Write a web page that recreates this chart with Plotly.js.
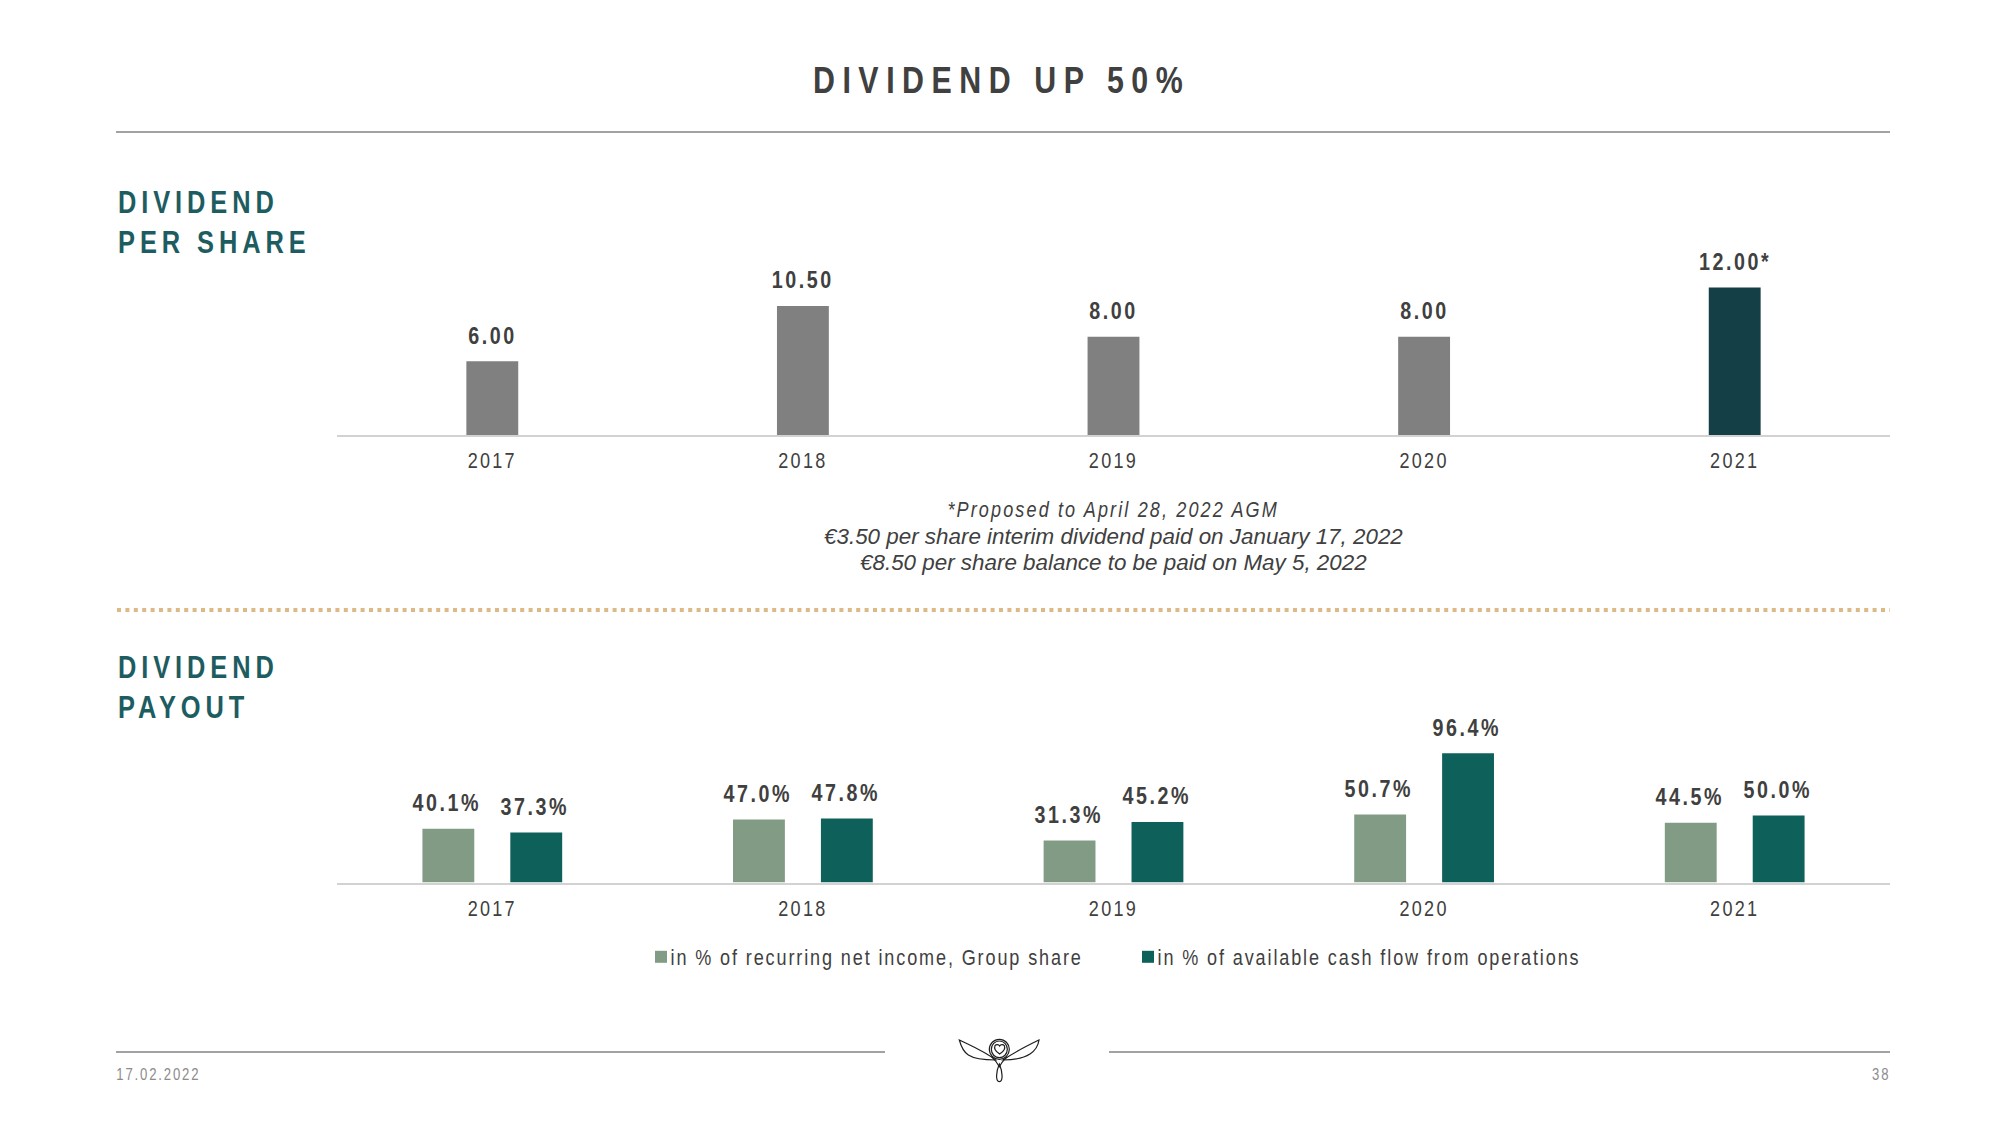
<!DOCTYPE html>
<html>
<head>
<meta charset="utf-8">
<script src="https://cdn.plot.ly/plotly-3.0.1.min.js"></script>
<style>
html,body{margin:0;padding:0;background:#fff}
.xtick text,.x2tick text{letter-spacing:2.8px}
.legendtext{letter-spacing:2.3px}
</style>
</head>
<body>
<div id="chart" style="width:2000px;height:1125px"></div>
<script>
const years = ['2017','2018','2019','2020','2021'];
const dividendPerShare = [6.00,10.50,8.00,8.00,12.00];
const dividendLabels = ['6.00','10.50','8.00','8.00','12.00*'];
const dividendColors = ['#808080','#808080','#808080','#808080','#153f46'];
const payoutNetIncome = [40.1,47.0,31.3,50.7,44.5];
const payoutCashFlow = [37.3,47.8,45.2,96.4,50.0];
const netIncomeName = 'in % of recurring net income, Group share';
const cashFlowName = 'in % of available cash flow from operations';
const titleText = 'DIVIDEND UP 50%';
const headingPerShare = ['DIVIDEND','PER SHARE'];
const headingPayout = ['DIVIDEND','PAYOUT'];
const footnotes = ['*Proposed to April 28, 2022 AGM','€3.50 per share interim dividend paid on January 17, 2022','€8.50 per share balance to be paid on May 5, 2022'];
const footerDate = '17.02.2022';
const footerPage = '38';

const W=2000,H=1125;
const SANS='"Liberation Sans",Arial,sans-serif';
const px=x=>x/W, py=y=>1-y/H;
const sp=(t,s)=>`<span style="letter-spacing:${s}px">${t}</span>`;

const traces=[
 {type:'bar',x:years,y:dividendPerShare,xaxis:'x',yaxis:'y',width:0.167,marker:{color:dividendColors},showlegend:false,hoverinfo:'x+y'},
 {type:'bar',name:netIncomeName,x:years,y:payoutNetIncome,xaxis:'x2',yaxis:'y2',marker:{color:'#829b85'}},
 {type:'bar',name:cashFlowName,x:years,y:payoutCashFlow,xaxis:'x2',yaxis:'y2',marker:{color:'#0e605b'}}
];

const ann=[];
const txt=(x,y,text,size,color,opts)=>ann.push(Object.assign({xref:'paper',yref:'paper',x:px(x),y:py(y),text,showarrow:false,xanchor:'center',yanchor:'middle',font:{family:SANS,size,color}},opts||{}));
const dataLabel=(xr,yr,x,y,text,shift)=>ann.push({xref:xr,yref:yr,x,y,text:sp(`<b>${text}</b>`,3.1),showarrow:false,xanchor:'center',yanchor:'middle',xshift:shift,yshift:26,font:{family:SANS,size:24,color:'#404040'}});

years.forEach((yr,i)=>{
 dataLabel('x','y',i,dividendPerShare[i],dividendLabels[i],0);
 dataLabel('x2','y2',i,payoutNetIncome[i],payoutNetIncome[i].toFixed(1)+'%',-45);
 dataLabel('x2','y2',i,payoutCashFlow[i],payoutCashFlow[i].toFixed(1)+'%',43);
});
const head=(y,t)=>txt(116,y,sp(`<b>${t}</b>`,6),31,'#1d5c60',{xanchor:'left',align:'left'});
head(203,headingPerShare[0]);head(243,headingPerShare[1]);
head(667,headingPayout[0]);head(707,headingPayout[1]);
txt(1113,509,sp(`<i>${footnotes[0]}</i>`,2.6),22,'#404040');
txt(1113,536,`<i>${footnotes[1]}</i>`,22.4,'#404040');
txt(1113,562,`<i>${footnotes[2]}</i>`,22.4,'#404040');
txt(105,1074,sp(footerDate,2.25),16,'#8c8c8c',{xanchor:'left'});
txt(1894,1074,sp(footerPage,2.25),16,'#8c8c8c',{xanchor:'right'});

const rule=(x0,y0,x1,y1,color,width,dash)=>({type:'line',xref:'paper',yref:'paper',x0:px(x0),x1:px(x1),y0:py(y0),y1:py(y1),line:{color,width,dash:dash||'solid'}});
const Z=(zx,zy)=>`${px(900+zx/3)},${py(1020+zy/3)}`;
const logoPath=(d)=>({type:'path',xref:'paper',yref:'paper',path:d,line:{color:'#1e1e1e',width:1.2},fillcolor:'rgba(0,0,0,0)'});
const circ=(cx,cy,rx,ry)=>`M${Z(cx-rx,cy)} C${Z(cx-rx,cy-ry*0.55)} ${Z(cx-rx*0.55,cy-ry)} ${Z(cx,cy-ry)} C${Z(cx+rx*0.55,cy-ry)} ${Z(cx+rx,cy-ry*0.55)} ${Z(cx+rx,cy)} C${Z(cx+rx,cy+ry*0.55)} ${Z(cx+rx*0.55,cy+ry)} ${Z(cx,cy+ry)} C${Z(cx-rx*0.55,cy+ry)} ${Z(cx-rx,cy+ry*0.55)} ${Z(cx-rx,cy)} Z`;
const shapes=[
 rule(116,132,1890,132,'#a2a2a2',2),
 rule(117,610,1890,610,'#dcb987',4,'4px,4.4px'),
 rule(116,1052,885,1052,'#a2a2a2',2),
 rule(1109,1052,1890,1052,'#a2a2a2',2),
 logoPath(`M${Z(178,60)} C${Z(215,78)} ${Z(255,95)} ${Z(287,120)} C${Z(260,120)} ${Z(225,118)} ${Z(205,105)} C${Z(190,95)} ${Z(182,75)} ${Z(178,60)} Z`),
 logoPath(`M${Z(417,60)} C${Z(380,78)} ${Z(345,95)} ${Z(309,120)} C${Z(335,120)} ${Z(370,115)} ${Z(390,102)} C${Z(408,90)} ${Z(415,75)} ${Z(417,60)} Z`),
 logoPath(circ(298,88,30,30)),
 logoPath(circ(298,88,24,25)),
 logoPath(`M${Z(299,102)} C${Z(290,96)} ${Z(280,88)} ${Z(285,77)} C${Z(289,72)} ${Z(296,73)} ${Z(299,78)} C${Z(302,73)} ${Z(309,72)} ${Z(313,77)} C${Z(318,88)} ${Z(308,96)} ${Z(299,102)} Z`),
 logoPath(`M${Z(298,132)} C${Z(288,155)} ${Z(286,185)} ${Z(298,185)} C${Z(310,185)} ${Z(308,155)} ${Z(298,132)} Z`),
 logoPath(`M${Z(275,110)} C${Z(285,120)} ${Z(290,125)} ${Z(298,140)} C${Z(306,125)} ${Z(312,120)} ${Z(321,110)}`)
];

const xAx=(a)=>({type:'category',categoryorder:'array',categoryarray:years,range:[-0.5,4.5],domain:[337/W,1890/W],anchor:a,showgrid:false,zeroline:false,showline:true,linecolor:'#d2d2d2',linewidth:2,ticks:'outside',ticklen:5,tickcolor:'rgba(0,0,0,0)',tickfont:{family:SANS,size:22,color:'#404040'},fixedrange:true});
const yAx=(base,pxTop,max,xa)=>({domain:[1-base/H,1-pxTop/H],range:[0,max],visible:false,anchor:xa,fixedrange:true});

const layout={
 width:W,height:H,margin:{l:0,r:0,t:0,b:0},paper_bgcolor:'#fff',plot_bgcolor:'#fff',
 title:{text:sp(`<b>${titleText}</b>`,9.2),x:0.5008,xanchor:'center',xref:'paper',y:py(80),yref:'paper',yanchor:'middle',font:{family:SANS,size:37,color:'#404040'}},
 barmode:'group',bargap:0.434,bargroupgap:0.41,
 xaxis:xAx('y'),
 yaxis:yAx(435,263,14,'x'),
 xaxis2:xAx('y2'),
 yaxis2:yAx(882.5,735.1,110,'x2'),
 showlegend:true,
 legend:{orientation:'h',x:px(641),xanchor:'left',y:py(957),yanchor:'middle',font:{family:SANS,size:22,color:'#404040'},entrywidth:442,entrywidthmode:'pixels',itemclick:false,itemdoubleclick:false,traceorder:'normal',bgcolor:'rgba(0,0,0,0)'},
 annotations:ann,shapes:shapes
};
// The reference's narrow typeface is not installed: condense the regular one.
const condense=(el,f)=>{const w=el.getComputedTextLength();el.setAttribute('textLength',(w*f).toFixed(1));el.setAttribute('lengthAdjust','spacingAndGlyphs');};
Plotly.newPlot('chart',traces,layout,{displayModeBar:false,responsive:false}).then(()=>{
 const root=document.getElementById('chart');
 root.querySelectorAll('.legendtext').forEach(t=>{t.setAttribute('x','29.5');condense(t,0.82);});
 root.querySelectorAll('.xtick text,.x2tick text,.gtitle').forEach(t=>condense(t,0.82));
 root.querySelectorAll('.annotation-text').forEach(t=>{
  if(!/€/.test(t.textContent)) condense(t,0.82);
 });
});
</script>
</body>
</html>
